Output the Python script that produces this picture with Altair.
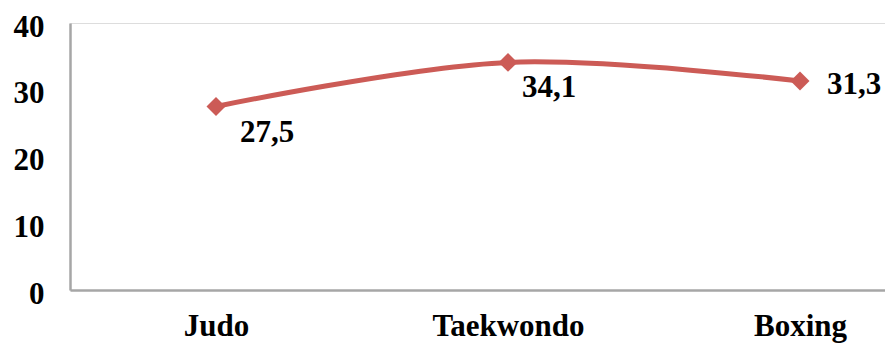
import altair as alt
import pandas as pd

sports = ["Judo", "Taekwondo", "Boxing"]
values = [27.5, 34.1, 31.3]
labels = ["27,5", "34,1", "31,3"]

df = pd.DataFrame({"sport": sports, "value": values, "label": labels})

RED = "#CC5B56"
FONT = "Liberation Serif"
FS = 31

x = alt.X(
    "sport:N",
    sort=sports,
    scale=alt.Scale(type="point", padding=0.5, range=[0, 876]),
    axis=alt.Axis(
        title=None, ticks=False, grid=False, labelAngle=0,
        labelFont=FONT, labelFontSize=FS, labelFontWeight="bold",
        labelColor="#000000", labelPadding=21,
        domainColor="#A6A6A6", domainWidth=2.5,
    ),
)
y = alt.Y(
    "value:Q",
    scale=alt.Scale(domain=[0, 40], nice=False),
    axis=alt.Axis(
        title=None, ticks=False, grid=False, values=[0, 10, 20, 30, 40],
        labelFont=FONT, labelFontSize=FS, labelFontWeight="bold",
        labelColor="#000000", labelPadding=26, labelOffset=4,
        domainColor="#A6A6A6", domainWidth=2.5,
    ),
)

base = alt.Chart(df).encode(x=x, y=y)

line = base.mark_line(color=RED, strokeWidth=5, interpolate="catmull-rom")
points = base.mark_point(shape="diamond", filled=True, color=RED, size=360, opacity=1)


def value_label(name, dx, dy):
    return base.transform_filter(alt.datum.sport == name).mark_text(
        align="left", baseline="alphabetic", dx=dx, dy=dy,
        font=FONT, fontSize=FS, fontWeight="bold", color="#000000",
    ).encode(text="label:N")


chart = alt.layer(
    line,
    points,
    value_label("Judo", 24, 36),
    value_label("Taekwondo", 14, 35),
    value_label("Boxing", 27, 13),
).properties(
    width=815,
    height=267,
    autosize=alt.AutoSizeParams(type="none"),
    padding={"left": 70, "top": 23, "right": 0, "bottom": 54},
).configure_view(stroke=None).configure(background="#FFFFFF")

chart.save("out.html", embed_options={"renderer": "svg", "actions": False})
